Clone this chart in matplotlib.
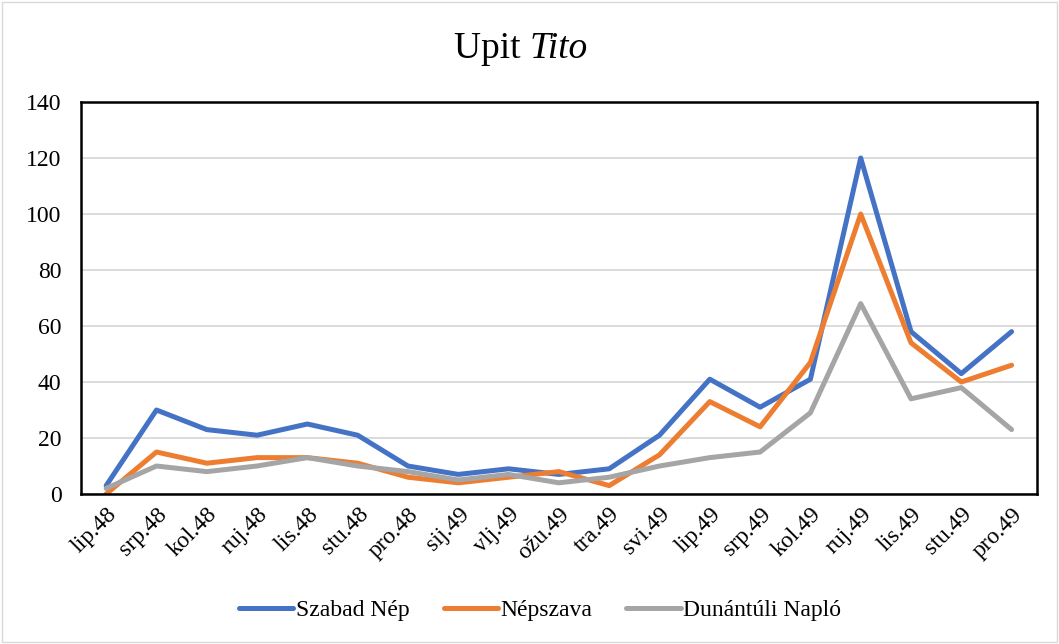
import matplotlib.pyplot as plt
from matplotlib.patches import Rectangle

# podaci
mjeseci = ["lip.48", "srp.48", "kol.48", "ruj.48", "lis.48", "stu.48", "pro.48",
           "sij.49", "vlj.49", "ožu.49", "tra.49", "svi.49", "lip.49", "srp.49",
           "kol.49", "ruj.49", "lis.49", "stu.49", "pro.49"]
szabad_nep = [3, 30, 23, 21, 25, 21, 10, 7, 9, 7, 9, 21, 41, 31, 41, 120, 58, 43, 58]
nepszava = [0, 15, 11, 13, 13, 11, 6, 4, 6, 8, 3, 14, 33, 24, 47, 100, 54, 40, 46]
dunantuli = [2, 10, 8, 10, 13, 10, 8, 5, 7, 4, 6, 10, 13, 15, 29, 68, 34, 38, 23]

plt.rcParams['font.family'] = ['Liberation Serif', 'DejaVu Serif']

fig = plt.figure(figsize=(10.59, 6.44), dpi=100)
ax = fig.add_axes([0.0765, 0.2329, 0.9025, 0.6087])

x = list(range(len(mjeseci)))
ax.plot(x, szabad_nep, color="#4472C4", lw=3.6, label="Szabad Nép", solid_capstyle="round")
ax.plot(x, nepszava, color="#ED7D31", lw=3.6, label="Népszava", solid_capstyle="round")
ax.plot(x, dunantuli, color="#A5A5A5", lw=3.6, label="Dunántúli Napló", solid_capstyle="round")

ax.set_xlim(-0.5, len(mjeseci) - 0.5)
ax.set_ylim(0, 140)
ax.set_yticks(range(0, 141, 20))
ax.set_xticks(x)
ax.set_xticklabels(mjeseci, rotation=45, ha="right", rotation_mode="anchor", fontsize=17)
ax.tick_params(axis="y", labelsize=17, length=0, pad=14)
ax.tick_params(axis="x", length=0, pad=7)
ax.grid(axis="y", color="#d9d9d9", lw=1.3)
ax.set_axisbelow(True)
for s in ax.spines.values():
    s.set_color("black")
    s.set_linewidth(1.8)

fig.text(0.5, 0.925, "Upit ", ha="right", va="center", fontsize=27)
fig.text(0.5, 0.925, "Tito", ha="left", va="center", fontsize=27, style="italic")

fig.legend(loc="center", bbox_to_anchor=(0.51, 0.052), ncol=3, frameon=False,
           fontsize=17, handlelength=2.3, handletextpad=0.1, columnspacing=1.45)

fig.patches.append(Rectangle((0.002, 0.003), 0.996, 0.994, transform=fig.transFigure,
                             fill=False, edgecolor="#d9d9d9", lw=1))

plt.savefig("out.png", dpi=100)
